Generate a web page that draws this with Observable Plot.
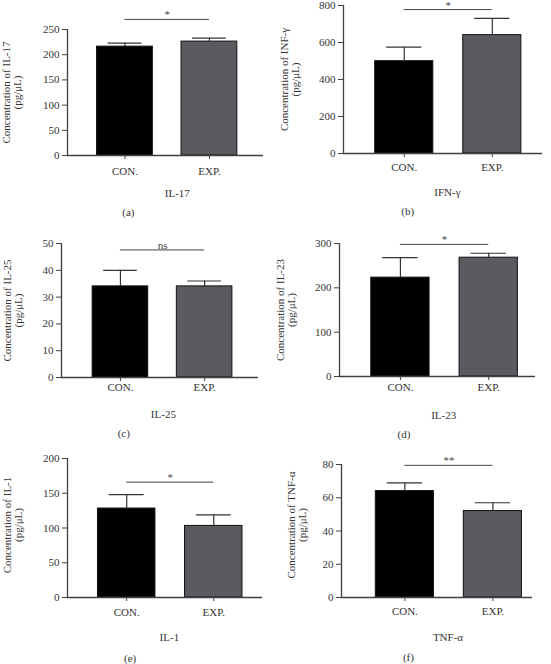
<!DOCTYPE html>
<html><head><meta charset="utf-8">
<script src="https://cdn.jsdelivr.net/npm/d3@7"></script>
<script src="https://cdn.jsdelivr.net/npm/@observablehq/plot@0.6"></script>
<style>
body{margin:0;background:#fff;}
#fig{position:relative;width:551px;height:664px;overflow:hidden;background:#fff;}
#fig svg{position:absolute;overflow:visible;}
</style></head><body><div id="fig"></div>
<script>
const groups = ["CON.", "EXP."];
const cytokines = ["IL-17", "IFN-γ", "IL-25", "IL-23", "IL-1", "TNF-α"];
const yTitles = ["Concentration of IL-17", "Concentration of INF-γ", "Concentration of IL-25", "Concentration of IL-23", "Concentration of IL-1", "Concentration of TNF-α"];
const yUnit = "(pg/μL)";
const panelLetters = ["(a)", "(b)", "(c)", "(d)", "(e)", "(f)"];
const conMeans = [216, 499, 34, 223, 128, 64];
const conErrors = [7, 76, 6, 45, 20, 5];
const expMeans = [226, 640, 34, 268, 103, 52];
const expErrors = [7, 90, 2, 10, 16, 5];
const yMax = [250, 800, 50, 300, 200, 80];
const yTicks = [[0,50,100,150,200,250],[0,200,400,600,800],[0,10,20,30,40,50],[0,100,200,300],[0,50,100,150,200],[0,20,40,60,80]];
const sigLabels = ["*", "*", "ns", "*", "*", "**"];
const sigLevels = [270, 778, 47.6, 298, 166, 79.5];

// layout (pixels in page, and x-domain padding per panel)
const layout = [
 {left:0,   top:0,   w:275, h:220, axL:67,  axR:263, axT:29,  axB:155, xDom:[-0.68,1.64], tickPad:8, nameDy:38,   nameX:0.62, letterDy:57,   titleDx:-55.5, titleDy:0},
 {left:275, top:0,   w:276, h:220, axL:343, axR:542, axT:5,   axB:153, xDom:[-0.69,1.57], tickPad:6, nameDy:39,   nameX:0.49, letterDy:58,   titleDx:-53.5, titleDy:0},
 {left:0,   top:220, w:275, h:220, axL:61,  axR:258, axT:243, axB:377, xDom:[-0.70,1.64], tickPad:2, nameDy:37,   nameX:0.51, letterDy:56,   titleDx:-49,   titleDy:0},
 {left:275, top:220, w:276, h:220, axL:339, axR:535, axT:243, axB:376, xDom:[-0.69,1.53], tickPad:3, nameDy:38.5, nameX:0.49, letterDy:57.5, titleDx:-53.6, titleDy:0},
 {left:0,   top:440, w:275, h:224, axL:67,  axR:262, axT:458, axB:597, xDom:[-0.68,1.56], tickPad:7, nameDy:39.5, nameX:0.49, letterDy:61,   titleDx:-55,   titleDy:-3},
 {left:275, top:440, w:276, h:224, axL:341, axR:532, axT:464, axB:597, xDom:[-0.72,1.45], tickPad:6, nameDy:40,   nameX:0.49, letterDy:60,   titleDx:-45,   titleDy:-6}
];

const FONT = "Liberation Serif, Times New Roman, serif";
const AX = "#404040";
const fig = document.getElementById("fig");

layout.forEach((L, k) => {
  const rows = groups.map((g, i) => ({g, i, mean: i ? expMeans[k] : conMeans[k], err: i ? expErrors[k] : conErrors[k]}));
  const sig = [{x1: 0, x2: 1, mid: 0.5, y: sigLevels[k], label: sigLabels[k]}];
  const chart = Plot.plot({
    width: L.w, height: L.h,
    marginLeft: L.axL - L.left, marginRight: L.left + L.w - L.axR,
    marginTop: L.axT - L.top, marginBottom: L.top + L.h - L.axB,
    style: {fontFamily: FONT, fontSize: "11px", color: "#333", background: "transparent", overflow: "visible"},
    x: {domain: L.xDom},
    y: {domain: [0, yMax[k]]},
    color: {domain: groups, range: ["#000000", "#5b5a61"]},
    marks: [
      Plot.rect(rows, {x1: d => d.i - 0.33, x2: d => d.i + 0.33, y1: d => 0, y2: "mean", fill: "g", stroke: "#111", strokeWidth: 1}),
      Plot.ruleX(rows, {x: "i", y1: "mean", y2: d => d.mean + d.err, stroke: "#333", strokeWidth: 1.2}),
      Plot.ruleY(rows, {y: d => d.mean + d.err, x1: d => d.i - 0.2, x2: d => d.i + 0.2, stroke: "#333", strokeWidth: 1.2}),
      Plot.ruleY([0], {stroke: AX, strokeWidth: 1.3}),
      Plot.ruleX([L.xDom[0]], {stroke: AX, strokeWidth: 1.3}),
      Plot.axisY({ticks: yTicks[k], tickSize: 5, tickPadding: 3, label: null, stroke: AX, fill: "#333", fontSize: 11}),
      Plot.axisX({ticks: [0, 1], tickFormat: i => groups[i], tickSize: 4, tickPadding: L.tickPad, label: null, stroke: AX, fill: "#333", fontSize: 11}),
      Plot.ruleY(sig, {y: "y", x1: "x1", x2: "x2", stroke: "#444", strokeWidth: 1}),
      Plot.text(sig, {x: "mid", y: "y", text: "label", lineAnchor: "bottom", dy: -1, fill: "#444", fontSize: 11}),
      Plot.text([{x: L.nameX, t: cytokines[k]}], {x: "x", text: "t", frameAnchor: "bottom", lineAnchor: "middle", dy: L.nameDy, fill: "#333", fontSize: 11}),
      Plot.text([{x: 0.04, t: panelLetters[k]}], {x: "x", text: "t", frameAnchor: "bottom", lineAnchor: "middle", dy: L.letterDy, fill: "#333", fontSize: 11}),
      Plot.text([yTitles[k] + "\n" + yUnit], {text: d => d, frameAnchor: "left", textAnchor: "middle", lineAnchor: "middle", rotate: -90, dx: L.titleDx, dy: L.titleDy, lineHeight: 1.0, fill: "#333", fontSize: 11})
    ]
  });
  chart.style.left = L.left + "px";
  chart.style.top = L.top + "px";
  fig.appendChild(chart);
});
</script>
</body></html>
